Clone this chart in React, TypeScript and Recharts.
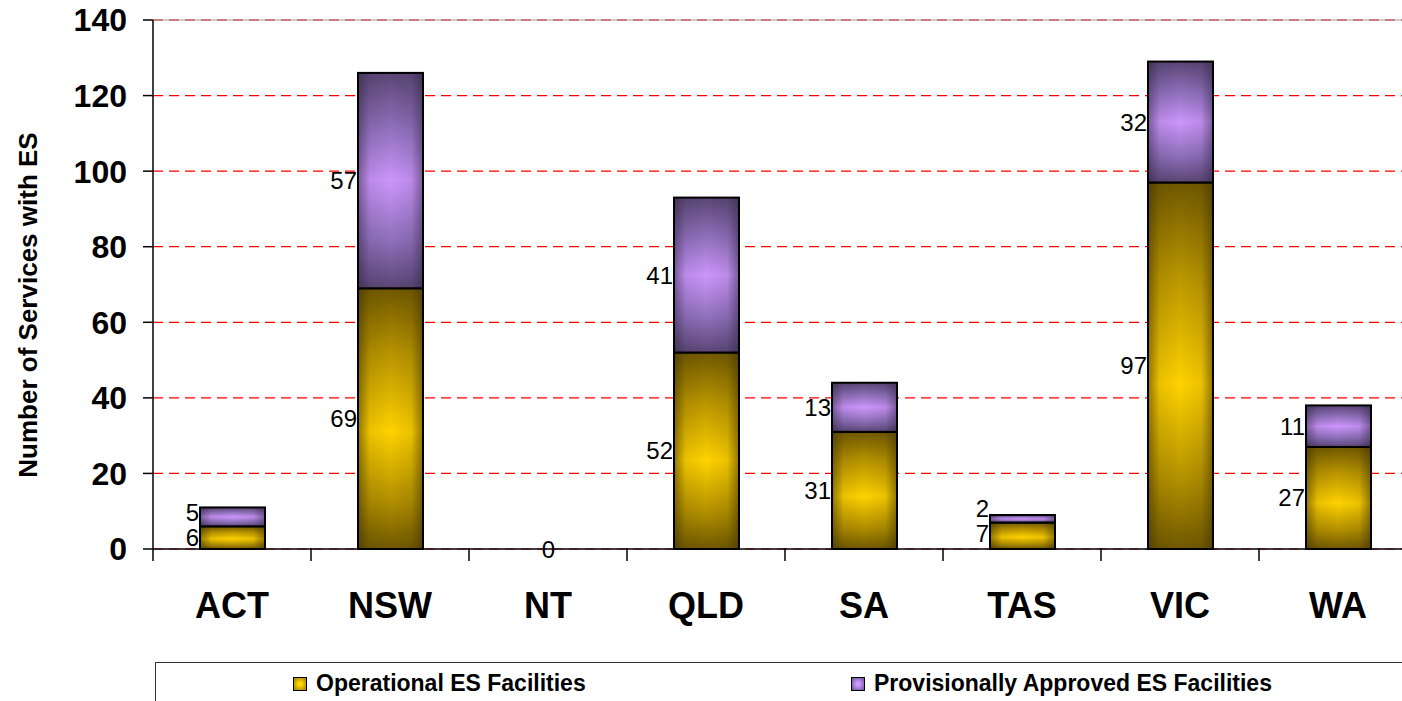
import React from 'react';
import {
  ComposedChart,
  Bar,
  XAxis,
  YAxis,
  CartesianGrid,
  Legend,
  LabelList,
  ReferenceLine,
  Label,
} from 'recharts';

const states = ['ACT', 'NSW', 'NT', 'QLD', 'SA', 'TAS', 'VIC', 'WA'];
const operational = [6, 69, 0, 52, 31, 7, 97, 27];
const provisional = [5, 57, 0, 41, 13, 2, 32, 11];
const yTicks = [0, 20, 40, 60, 80, 100, 120, 140];
const seriesNames = ['Operational ES Facilities', 'Provisionally Approved ES Facilities'];
const yTitle = 'Number of Services with ES';

const data = states.map((s, i) => ({
  state: s,
  operational: operational[i],
  provisional: provisional[i],
}));

const FONT = '"Liberation Sans", Arial, Helvetica, sans-serif';
const BAND = 158;

const makeShape = (kind: 'gold' | 'purple') => (props: any) => {
  const { x, y, width, height } = props;
  if (!height || height <= 0) return <g />;
  return (
    <g>
      <rect x={x} y={y} width={width} height={height} fill={`url(#${kind}V)`} />
      <rect x={x} y={y} width={width} height={height} fill={`url(#${kind}H)`} />
      <rect x={x} y={y} width={width} height={height} fill="none" stroke="#000" strokeWidth={2} />
    </g>
  );
};

const makeLabel = (isTop: boolean) => (props: any) => {
  const { x, y, width, height, value } = props;
  if (value === 0) {
    if (isTop) return null;
    return (
      <text x={x + width / 2} y={y} textAnchor="middle" dominantBaseline="central" fontFamily={FONT} fontSize={24} fill="#000">
        {value}
      </text>
    );
  }
  const mid = y + height / 2;
  let ly = mid;
  if (isTop) ly = Math.min(mid, y + height - 14);
  else if (height < 30) ly = y + 11;
  return (
    <text x={x - 1} y={ly} textAnchor="end" dominantBaseline="central" fontFamily={FONT} fontSize={24} fill="#000">
      {value}
    </text>
  );
};

const XTick = (props: any) => {
  const { x, y, payload, index } = props;
  const top = y - 8;
  return (
    <g>
      <line x1={x - BAND / 2} y1={top - 1} x2={x - BAND / 2} y2={top + 12} stroke="#000" strokeWidth={1.5} />
      {index === states.length - 1 && (
        <line x1={x + BAND / 2} y1={top - 1} x2={x + BAND / 2} y2={top + 12} stroke="#000" strokeWidth={1.5} />
      )}
      <text x={x} y={top + 69} textAnchor="middle" fontFamily={FONT} fontWeight="bold" fontSize={36} fill="#000">
        {payload.value}
      </text>
    </g>
  );
};

const LegendContent = (props: any) => {
  const { payload } = props;
  const lefts = [137, 695];
  const grads = [
    'radial-gradient(circle, #ffd700 20%, #9a7c00 100%)',
    'radial-gradient(circle, #cc99ff 20%, #6a5290 100%)',
  ];
  return (
    <div style={{ position: 'relative', width: '100%', height: '100%' }}>
      {(payload || []).map((p: any, i: number) => (
        <div
          key={i}
          style={{
            position: 'absolute',
            left: lefts[i],
            top: 7,
            display: 'flex',
            alignItems: 'center',
            fontFamily: FONT,
            fontWeight: 'bold',
            fontSize: 23,
            color: '#000',
            whiteSpace: 'nowrap',
          }}
        >
          <span
            style={{
              display: 'inline-block',
              width: 12,
              height: 12,
              border: '1.5px solid #000',
              background: grads[i],
              marginRight: 9,
            }}
          />
          {seriesNames[i]}
        </div>
      ))}
    </div>
  );
};

const YTitle = () => (
  <text
    x={28}
    y={305}
    transform="rotate(-90 28 305)"
    textAnchor="middle"
    dominantBaseline="central"
    fontFamily={FONT}
    fontWeight="bold"
    fontSize={26}
    fill="#000"
  >
    {yTitle}
  </text>
);

export default function App() {
  return (
    <div style={{ position: 'absolute', left: 0, top: 0, width: 1402, height: 701, overflow: 'hidden', background: '#fff' }}>
      <ComposedChart
        width={1420}
        height={701}
        data={data}
        margin={{ top: 20, right: 3, bottom: 0, left: 0 }}
        barCategoryGap={0}
      >
        <defs>
          <linearGradient id="goldV" x1="0" y1="0" x2="0" y2="1">
            <stop offset="0%" stopColor="#705800" />
            <stop offset="25%" stopColor="#b89400" />
            <stop offset="55%" stopColor="#ffd200" />
            <stop offset="82%" stopColor="#b08e00" />
            <stop offset="100%" stopColor="#705800" />
          </linearGradient>
          <linearGradient id="goldH" x1="0" y1="0" x2="1" y2="0">
            <stop offset="0%" stopColor="#3a2e00" stopOpacity={0.55} />
            <stop offset="18%" stopColor="#3a2e00" stopOpacity={0.1} />
            <stop offset="50%" stopColor="#3a2e00" stopOpacity={0} />
            <stop offset="82%" stopColor="#3a2e00" stopOpacity={0.1} />
            <stop offset="100%" stopColor="#3a2e00" stopOpacity={0.55} />
          </linearGradient>
          <linearGradient id="purpleV" x1="0" y1="0" x2="0" y2="1">
            <stop offset="0%" stopColor="#5a4674" />
            <stop offset="25%" stopColor="#8e6fba" />
            <stop offset="50%" stopColor="#cc96fc" />
            <stop offset="78%" stopColor="#8e6fba" />
            <stop offset="100%" stopColor="#5a4674" />
          </linearGradient>
          <linearGradient id="purpleH" x1="0" y1="0" x2="1" y2="0">
            <stop offset="0%" stopColor="#2a1f3a" stopOpacity={0.5} />
            <stop offset="18%" stopColor="#2a1f3a" stopOpacity={0.1} />
            <stop offset="50%" stopColor="#2a1f3a" stopOpacity={0} />
            <stop offset="82%" stopColor="#2a1f3a" stopOpacity={0.1} />
            <stop offset="100%" stopColor="#2a1f3a" stopOpacity={0.5} />
          </linearGradient>
        </defs>
        <CartesianGrid vertical={false} stroke="#ff0000" strokeDasharray="10 6" strokeWidth={1.2} />
        <ReferenceLine y={140} stroke="#808080" strokeOpacity={0.5} strokeWidth={1.5} />
        <XAxis
          dataKey="state"
          height={113}
          axisLine={{ stroke: '#000', strokeWidth: 1.5 }}
          tickLine={false}
          tick={<XTick />}
          interval={0}
        />
        <YAxis
          width={153}
          domain={[0, 140]}
          ticks={yTicks}
          allowDecimals={false}
          axisLine={{ stroke: '#000', strokeWidth: 1.5 }}
          tickLine={{ stroke: '#000', strokeWidth: 1.5 }}
          tickSize={10}
          tickMargin={16}
          tick={{ fontFamily: FONT, fontWeight: 'bold', fontSize: 32, fill: '#000' }}
        >
          <Label content={<YTitle />} />
        </YAxis>
        <Legend
          verticalAlign="bottom"
          content={<LegendContent />}
          wrapperStyle={{
            left: 155,
            bottom: 0,
            width: 1300,
            height: 38,
            borderTop: '1.5px solid #333',
            borderLeft: '1.5px solid #333',
          }}
        />
        <Bar
          dataKey="operational"
          name={seriesNames[0]}
          stackId="a"
          barSize={65}
          fill="#ffd200"
          shape={makeShape('gold')}
          isAnimationActive={false}
        >
          <LabelList dataKey="operational" content={makeLabel(false)} />
        </Bar>
        <Bar
          dataKey="provisional"
          name={seriesNames[1]}
          stackId="a"
          barSize={65}
          fill="#cc99ff"
          shape={makeShape('purple')}
          isAnimationActive={false}
        >
          <LabelList dataKey="provisional" content={makeLabel(true)} />
        </Bar>
      </ComposedChart>
    </div>
  );
}
